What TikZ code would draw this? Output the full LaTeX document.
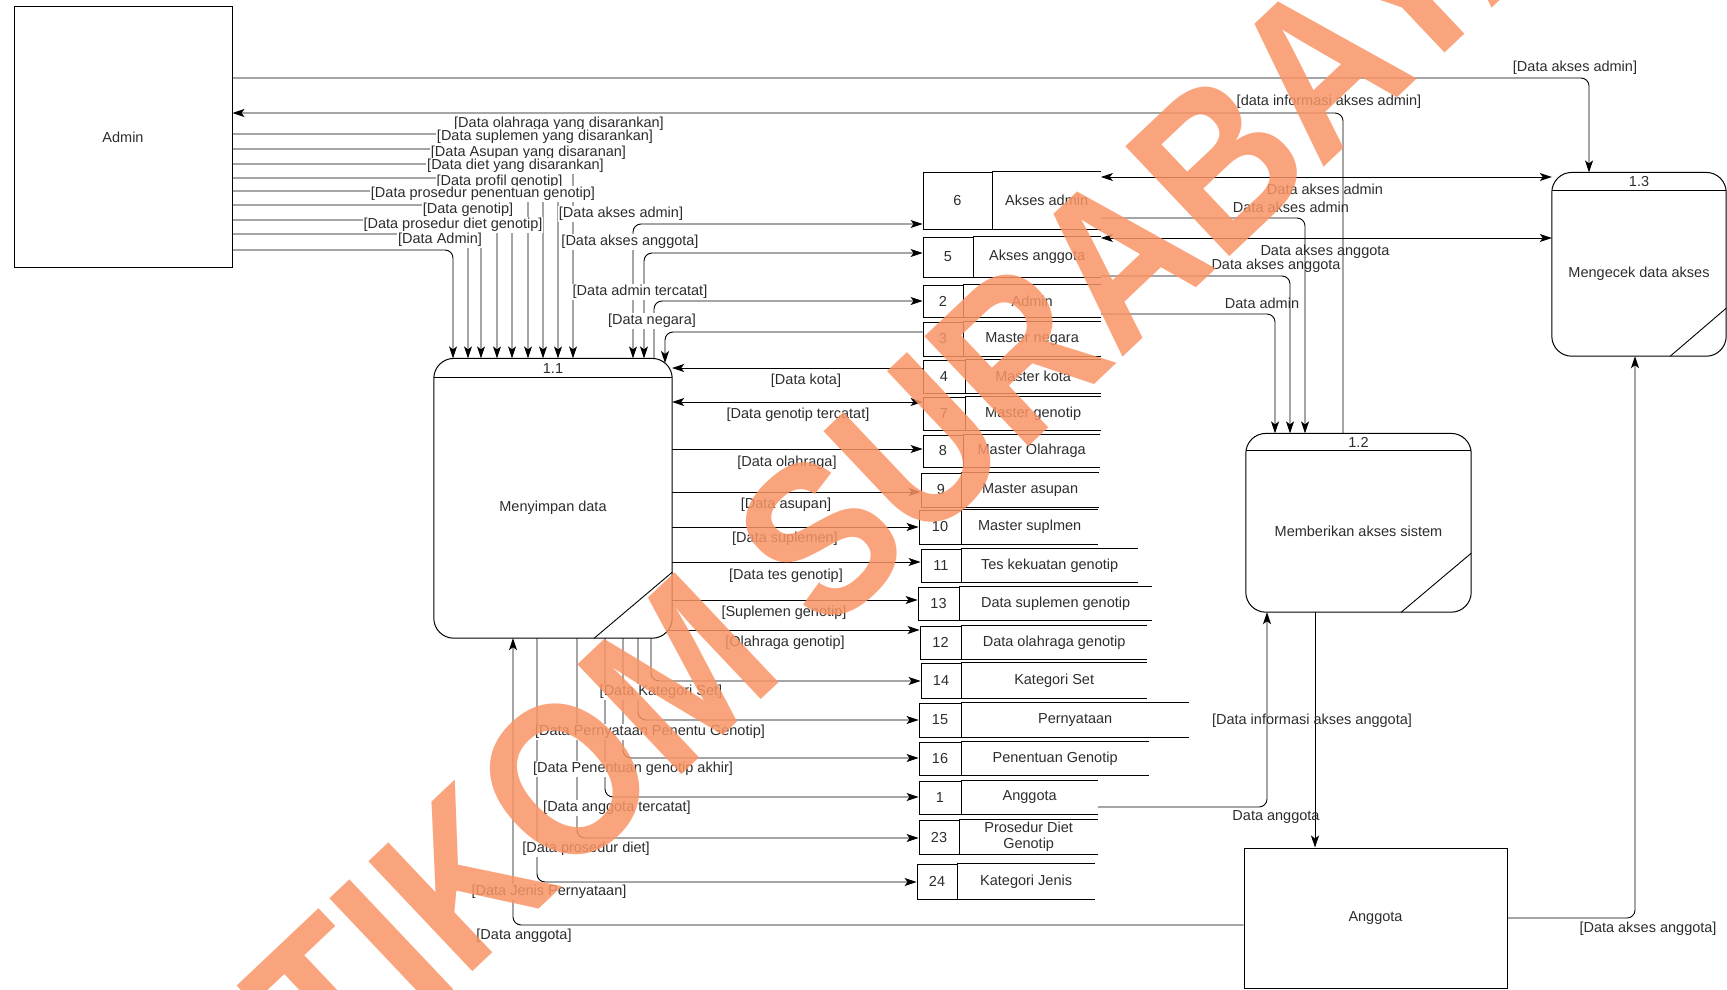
\documentclass[tikz,border=0pt]{standalone}
\usepackage{fontspec}
\setmainfont{Liberation Sans}
\usepackage{tikz}
\usetikzlibrary{calc, arrows.meta, positioning}
\definecolor{DFDInk}{RGB}{45, 45, 45}
\definecolor{DFDStamp}{RGB}{248, 148, 101}

\begin{document}
\begin{tikzpicture}[
    x=1pt, y=-1pt,
    font=\fontsize{14.5}{16}\selectfont,
    entity/.style={rectangle, draw, line width=1pt, text=DFDInk, inner sep=0pt},
    procbody/.style={rectangle, inner sep=0pt, text=DFDInk},
    prochead/.style={rectangle, inner sep=0pt, text=DFDInk},
    procline/.style={line width=1pt, rounded corners=20pt},
    thinline/.style={line width=0.9pt},
    storenum/.style={rectangle, draw, line width=0.9pt, inner sep=0pt, text=DFDInk},
    storeline/.style={line width=0.9pt},
    storename/.style={rectangle, inner sep=0pt, text=DFDInk, align=center,
      append after command={\pgfextra{\let\storenode=\tikzlastnode}
        (\storenode.north west) edge[storeline] (\storenode.north east)
        (\storenode.south west) edge[storeline] (\storenode.south east)}},
    flow/.style={-{Stealth[length=12pt, width=8pt, inset=3pt]}, line width=0.9pt, rounded corners=8pt},
    biflow/.style={{Stealth[length=12pt, width=8pt, inset=3pt]}-{Stealth[length=12pt, width=8pt, inset=3pt]}, line width=0.9pt, rounded corners=8pt},
    tag/.style={fill=white, inner sep=1pt, text=DFDInk},
    note/.style={inner sep=1pt, text=DFDInk}
  ]
    \useasboundingbox (0,0) rectangle (1727,990);

    \node[entity, minimum width=218pt, minimum height=260pt] (admin) at (123,137) {Admin};
    \node[entity, minimum width=263pt, minimum height=140pt] (anggota) at (1375.5,918) {Anggota};

    \node[procbody, minimum width=238pt, minimum height=260pt] (p11) at (553,508) {Menyimpan data};
    \node[prochead, minimum width=238pt, minimum height=19pt, above=0pt of p11] (p11h) {1.1};
    \node[procbody, minimum width=225pt, minimum height=161pt] (p12) at (1358.5,531.5) {Memberikan akses sistem};
    \node[prochead, minimum width=225pt, minimum height=17pt, above=0pt of p12] (p12h) {1.2};
    \node[procbody, minimum width=174pt, minimum height=165pt] (p13) at (1639,273.5) {Mengecek data akses};
    \node[prochead, minimum width=174pt, minimum height=18pt, above=0pt of p13] (p13h) {1.3};

    \draw[procline] (p11h.north west) rectangle (p11.south east);
    \draw[thinline] (p11h.south west) -- (p11h.south east);
    \draw[thinline] ([yshift=66pt]p11.south east) -- ([xshift=-78pt]p11.south east);
    \draw[procline] (p12h.north west) rectangle (p12.south east);
    \draw[thinline] (p12h.south west) -- (p12h.south east);
    \draw[thinline] ([yshift=59pt]p12.south east) -- ([xshift=-70pt]p12.south east);
    \draw[procline] (p13h.north west) rectangle (p13.south east);
    \draw[thinline] (p13h.south west) -- (p13h.south east);
    \draw[thinline] ([yshift=48pt]p13.south east) -- ([xshift=-56pt]p13.south east);

    \node[storenum, minimum width=69pt, minimum height=57pt] (n6) at (957.5,200.5) {6};
    \node[storename, minimum width=108pt, minimum height=57pt, right=0pt of n6] (ds6) {Akses admin};
    \node[storenum, minimum width=50pt, minimum height=40pt] (n5) at (948,257) {5};
    \node[storename, minimum width=127pt, minimum height=40pt, right=0pt of n5] (ds5) {Akses anggota};
    \node[storenum, minimum width=40pt, minimum height=32pt] (n2) at (943,301) {2};
    \node[storename, minimum width=137pt, minimum height=32pt, right=0pt of n2] (ds2) {Admin};
    \node[storenum, minimum width=40pt, minimum height=34pt] (n3) at (943,339) {3};
    \node[storename, minimum width=137pt, minimum height=34pt, right=0pt of n3] (ds3) {Master negara};
    \node[storenum, minimum width=42pt, minimum height=33pt] (n4) at (944,376.5) {4};
    \node[storename, minimum width=135pt, minimum height=33pt, right=0pt of n4] (ds4) {Master kota};
    \node[storenum, minimum width=42pt, minimum height=33pt] (n7) at (944,413.5) {7};
    \node[storename, minimum width=135pt, minimum height=33pt, right=0pt of n7] (ds7) {Master genotip};
    \node[storenum, minimum width=40pt, minimum height=32pt] (n8) at (943,451) {8};
    \node[storename, minimum width=136pt, minimum height=32pt, right=0pt of n8] (ds8) {Master Olahraga};
    \node[storenum, minimum width=40pt, minimum height=34pt] (n9) at (941,490) {9};
    \node[storename, minimum width=137pt, minimum height=34pt, right=0pt of n9] (ds9) {Master asupan};
    \node[storenum, minimum width=42pt, minimum height=34pt] (n10) at (940,527) {10};
    \node[storename, minimum width=136pt, minimum height=34pt, right=0pt of n10] (ds10) {Master suplmen};
    \node[storenum, minimum width=40pt, minimum height=33pt] (n11) at (941,565.5) {11};
    \node[storename, minimum width=176pt, minimum height=33pt, right=0pt of n11] (ds11) {Tes kekuatan genotip};
    \node[storenum, minimum width=41pt, minimum height=33pt] (n13) at (938.5,603.5) {13};
    \node[storename, minimum width=192pt, minimum height=33pt, right=0pt of n13] (ds13) {Data suplemen genotip};
    \node[storenum, minimum width=41pt, minimum height=33pt] (n12) at (940.5,642.5) {12};
    \node[storename, minimum width=185pt, minimum height=33pt, right=0pt of n12] (ds12) {Data olahraga genotip};
    \node[storenum, minimum width=40pt, minimum height=35pt] (n14) at (941,680.5) {14};
    \node[storename, minimum width=185pt, minimum height=35pt, right=0pt of n14] (ds14) {Kategori Set};
    \node[storenum, minimum width=42pt, minimum height=34pt] (n15) at (940,720) {15};
    \node[storename, minimum width=227pt, minimum height=34pt, right=0pt of n15] (ds15) {Pernyataan};
    \node[storenum, minimum width=42pt, minimum height=33pt] (n16) at (940,758.5) {16};
    \node[storename, minimum width=187pt, minimum height=33pt, right=0pt of n16] (ds16) {Penentuan Genotip};
    \node[storenum, minimum width=42pt, minimum height=33pt] (n1) at (940,797.5) {1};
    \node[storename, minimum width=136pt, minimum height=33pt, right=0pt of n1] (ds1) {Anggota};
    \node[storenum, minimum width=40pt, minimum height=34pt] (n23) at (939,837) {23};
    \node[storename, minimum width=138pt, minimum height=34pt, right=0pt of n23] (ds23) {Prosedur Diet\\Genotip};
    \node[storenum, minimum width=40pt, minimum height=35pt] (n24) at (937,881.5) {24};
    \node[storename, minimum width=137pt, minimum height=35pt, right=0pt of n24] (ds24) {Kategori Jenis};

    \draw[flow] (admin.east |- 0,134) -| (573,0 |- p11h.north);
    \draw[flow] (admin.east |- 0,149) -| (558,0 |- p11h.north);
    \draw[flow] (admin.east |- 0,164) -| (543,0 |- p11h.north);
    \draw[flow] (admin.east |- 0,178) -| (528,0 |- p11h.north);
    \draw[flow] (admin.east |- 0,191) -| (512,0 |- p11h.north);
    \draw[flow] (admin.east |- 0,205) -| (497,0 |- p11h.north);
    \draw[flow] (admin.east |- 0,220) -| (481,0 |- p11h.north);
    \draw[flow] (admin.east |- 0,234) -| (468,0 |- p11h.north);
    \draw[flow] (admin.east |- 0,250) -| (453,0 |- p11h.north);

    \draw[biflow] (633,0 |- p11h.north) |- (n6.west |- 0,224);
    \draw[biflow] (644,0 |- p11h.north) |- (n5.west |- 0,253);
    \draw[flow] (654,0 |- p11h.north) |- (n2.west |- 0,301);
    \draw[flow] (n3.west |- 0,332) -| (665,363);
    \draw[flow] (n4.west |- 0,368) -- (p11.east |- 0,368);
    \draw[biflow] (p11.east |- 0,402) -- (n7.west |- 0,402);
    \draw[flow] (p11.east |- 0,449) -- (n8.west |- 0,449);
    \draw[flow] (p11.east |- 0,492) -- (n9.west |- 0,492);
    \draw[flow] (p11.east |- 0,527) -- (n10.west |- 0,527);
    \draw[flow] (p11.east |- 0,562) -- (n11.west |- 0,562);
    \draw[flow] (p11.east |- 0,600) -- (n13.west |- 0,600);
    \draw[flow] (668,630) -- (n12.west |- 0,630);
    \draw[flow] (651,0 |- p11.south) |- (n14.west |- 0,681);
    \draw[flow] (638,0 |- p11.south) |- (n15.west |- 0,720);
    \draw[flow] (623,0 |- p11.south) |- (n16.west |- 0,758);
    \draw[flow] (605,0 |- p11.south) |- (n1.west |- 0,797);
    \draw[flow] (577,0 |- p11.south) |- (n23.west |- 0,838);
    \draw[flow] (537,0 |- p11.south) |- (n24.west |- 0,882);
    \draw[flow] (anggota.west |- 0,925) -| (513,0 |- p11.south);

    \draw[biflow] (ds6.east |- 0,177) -- (p13h.west |- 0,177);
    \draw[flow] (ds6.east |- 0,218) -| (1305,0 |- p12h.north);
    \draw[biflow] (ds5.east |- 0,238) -- (p13.west |- 0,238);
    \draw[flow] (ds5.east |- 0,276) -| (1290,0 |- p12h.north);
    \draw[flow] (ds2.east |- 0,314) -| (1275,0 |- p12h.north);
    \draw[flow] (1343,0 |- p12h.north) |- (admin.east |- 0,113);
    \draw[flow] (admin.east |- 0,78) -| (1589,0 |- p13h.north);
    \draw[flow] (ds1.east |- 0,807) -| (1267,0 |- p12.south);
    \draw[flow] (1315,0 |- p12.south) -- (1315,0 |- anggota.north);
    \draw[flow] (anggota.east |- 0,918) -| (1635,0 |- p13.south);

    \node[tag] (l1) at (559,124) {[Data olahraga yang disarankan]};
    \node[tag] (l2) at (545,137) {[Data suplemen yang disarankan]};
    \node[tag] (l3) at (528.5,153) {[Data Asupan yang disaranan]};
    \node[tag] (l4) at (515.5,166) {[Data diet yang disarankan]};
    \node[tag] (l5) at (499.5,182) {[Data profil genotip]};
    \node[tag] (l6) at (483,194) {[Data prosedur penentuan genotip]};
    \node[tag] (l7) at (468,210) {[Data genotip]};
    \node[tag] (l8) at (453,225) {[Data prosedur diet genotip]};
    \node[tag] (l9) at (440,240) {[Data Admin]};
    \node[tag] (l10) at (621,214) {[Data akses admin]};
    \node[tag] (l11) at (630,242) {[Data akses anggota]};
    \node[tag] (l12) at (640,292) {[Data admin tercatat]};
    \node[tag] (l13) at (652,321) {[Data negara]};
    \node[tag] (l14) at (806,381) {[Data kota]};
    \node[tag] (l15) at (798,415) {[Data genotip tercatat]};
    \node[tag] (l16) at (787,463) {[Data olahraga]};
    \node[tag] (l17) at (786,505) {[Data asupan]};
    \node[tag] (l18) at (785,539) {[Data suplemen]};
    \node[tag] (l19) at (786,576) {[Data tes genotip]};
    \node[tag] (l20) at (784,613) {[Suplemen genotip]};
    \node[tag] (l21) at (785,643) {[Olahraga genotip]};
    \node[tag] (l22) at (661,692) {[Data Kategori Set]};
    \node[tag] (l23) at (650,732) {[Data Pernyataan Penentu Genotip]};
    \node[tag] (l24) at (633,769) {[Data Penentuan genotip akhir]};
    \node[tag] (l25) at (617,808) {[Data anggota tercatat]};
    \node[tag] (l26) at (586,849) {[Data prosedur diet]};
    \node[tag] (l27) at (549,892) {[Data Jenis Pernyataan]};
    \node[tag] (l28) at (524,936) {[Data anggota]};
    \node[note] (l29) at (1575,68) {[Data akses admin]};
    \node[note] (l30) at (1329,102) {[data informasi akses admin]};
    \node[note] (l31) at (1325,189) {Data akses admin};
    \node[note] (l32) at (1291,207) {Data akses admin};
    \node[note] (l33) at (1325,252) {Data akses anggota};
    \node[note] (l34) at (1276,266) {Data akses anggota};
    \node[note] (l35) at (1262,303) {Data admin};
    \node[note] (l36) at (1312,721) {[Data informasi akses anggota]};
    \node[note] (l37) at (1276,817) {Data anggota};
    \node[note] (l38) at (1648,929) {[Data akses anggota]};

    \node[rotate=43.4, xscale=0.87, text=DFDStamp, opacity=0.85, inner sep=0pt,
      font=\fontsize{220}{220}\selectfont\bfseries] (stamp) at (866,496) {STIKOM SURABAYA};
  \end{tikzpicture}
\end{document}
